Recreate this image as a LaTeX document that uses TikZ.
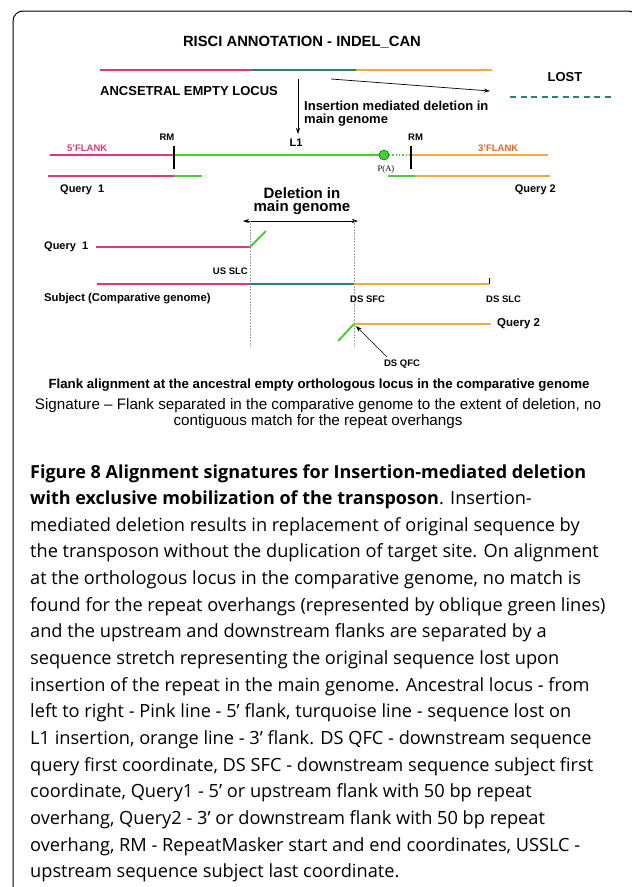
\documentclass[tikz,border=0pt]{standalone}
\usepackage{fontspec}
\setmainfont{Liberation Sans}
\newfontfamily\capfont{Open Sans}
\newfontfamily\pafont{Liberation Serif}
\usetikzlibrary{arrows.meta}
\definecolor{pinkc}{HTML}{E4357B}
\definecolor{tealc}{HTML}{2F7F78}
\definecolor{orangec}{HTML}{F4AA3E}
\definecolor{greenc}{HTML}{4DCB3A}
\definecolor{flankor}{HTML}{F0641E}
\begin{document}
\begin{tikzpicture}[x=1pt,y=-1pt,
  seg/.style={line width=2pt},
  thin arrow/.style={line width=0.7pt,-{Stealth[length=6pt,width=4pt]}},
  tick/.style={line width=1.2pt},
  guide/.style={gray!70,line width=0.5pt,densely dotted},
  lbl/.style={inner sep=0pt,font=\bfseries\fontsize{#1}{#1}\selectfont},
  lbl/.default=10,
  capl/.style={inner sep=0pt,anchor=base west,font=\capfont\fontsize{18.2}{18.2}\selectfont},
  capb/.style={capl,font=\capfont\bfseries\fontsize{18}{18}\selectfont},
  bodyt/.style={inner sep=0pt,font=\fontsize{15.2}{15.2}\selectfont}]
\useasboundingbox (0,0) rectangle (632,887);
\begin{scope}
\clip (0,0) rectangle (632,887);
\draw[line width=1pt,rounded corners=10pt] (13,900) -- (13,11) -- (638,11) -- (638,900);
\end{scope}

% title
\node[lbl=14.8] (title) at (302,42) {RISCI ANNOTATION - INDEL\_CAN};

% ancestral locus
\coordinate (a0) at (100,70); \coordinate (a1) at (251,70);
\coordinate (a2) at (356,70); \coordinate (a3) at (492,70);
\draw[seg,pinkc] (a0) -- (a1);
\draw[seg,tealc] (a1) -- (a2);
\draw[seg,orangec] (a2) -- (a3);
\node[lbl=13] (lost) at (565,77) {LOST};
\coordinate (d0) at (510,97); \coordinate (d1) at (614,97);
\draw[seg,tealc,line width=1.5pt,dash pattern=on 6pt off 4.5pt] (d0) -- (d1);
\coordinate (la0) at (331,79); \coordinate (la1) at (490,91);
\draw[thin arrow] (la0) -- (la1);
\node[lbl=13,anchor=west] (anc) at (100,91) {ANCSETRAL EMPTY LOCUS};
\coordinate (va0) at (298,79); \coordinate (va1) at (298,134);
\draw[thin arrow] (va0) -- (va1);
\node[lbl=13,anchor=west] (ins1) at (304,106) {Insertion mediated deletion in};
\node[lbl=13,anchor=west] (ins2) at (304,120) {main genome};

% main genome locus
\coordinate (m0) at (50,155); \coordinate (m1) at (174,155);
\coordinate (m2) at (379,155); \coordinate (m3) at (389,155);
\coordinate (m4) at (411,155); \coordinate (m5) at (548,155);
\draw[seg,pinkc] (m0) -- (m1);
\draw[seg,greenc] (m1) -- (m2);
\draw[greenc,line width=1.3pt,dotted] (m3) -- (m4);
\draw[seg,orangec] (m4) -- (m5);
\node[circle,draw=green!45!black,fill=greenc,line width=0.6pt,minimum size=10pt,inner sep=0pt] (pa) at (384,155) {};
\node[inner sep=0pt,font=\pafont\fontsize{8.5}{8.5}\selectfont] (palbl) at (386,169) {P(A)};
\coordinate (rm1a) at (174,146); \coordinate (rm1b) at (174,169);
\coordinate (rm2a) at (411,146); \coordinate (rm2b) at (411,169);
\draw[tick] (rm1a) -- (rm1b);
\draw[tick] (rm2a) -- (rm2b);
\node[lbl=9.5,anchor=east] (rm1) at (174.5,137) {RM};
\node[lbl=9.5,anchor=west] (rm2) at (408,137) {RM};
\node[lbl=9.5,anchor=west,text=pinkc] (f5) at (67,148) {5'FLANK};
\node[lbl=11] (l1) at (296,143) {L1};
\node[lbl=9.5,anchor=west,text=flankor] (f3) at (478,148) {3'FLANK};

% query lines
\coordinate (q0) at (48,176); \coordinate (q1) at (174,176); \coordinate (q2) at (202,176);
\coordinate (r0) at (388,176); \coordinate (r1) at (415,176); \coordinate (r2) at (550,176);
\draw[seg,pinkc] (q0) -- (q1);
\draw[seg,greenc] (q1) -- (q2);
\draw[seg,greenc] (r0) -- (r1);
\draw[seg,orangec] (r1) -- (r2);
\node[lbl=11,anchor=west] (qa) at (60,190) {Query\ \ 1};
\node[lbl=11,anchor=east] (qb) at (556,190) {Query 2};

% deletion
\node[lbl=15] (del1) at (302,193) {Deletion in};
\node[lbl=15] (del2) at (302,208) {main genome};
\coordinate (da0) at (243,221); \coordinate (da1) at (358,221);
\draw[line width=0.7pt,{Stealth[length=6pt,width=4pt]}-{Stealth[length=6pt,width=4pt]}] (da0) -- (da1);
\coordinate (g0) at (250,221); \coordinate (g1) at (250,346);
\coordinate (h0) at (354,221); \coordinate (h1) at (354,346);
\draw[guide] (g0) -- (g1);
\draw[guide] (h0) -- (h1);

% query 1 alignment
\node[lbl=11,anchor=west] (q1l) at (44,247) {Query\ \ 1};
\coordinate (s0) at (96,247); \coordinate (s1) at (250,247); \coordinate (s2) at (266,231);
\draw[seg,pinkc] (s0) -- (s1);
\draw[seg,greenc] (s1) -- (s2);
\node[lbl=9.5,anchor=east] (usslc) at (248,271) {US SLC};

% subject
\coordinate (t0) at (97,284); \coordinate (t1) at (250,284);
\coordinate (t2) at (354,284); \coordinate (t3) at (489,284);
\coordinate (t4) at (489,278);
\draw[seg,pinkc] (t0) -- (t1);
\draw[seg,tealc] (t1) -- (t2);
\draw[seg,orangec] (t2) -- (t3);
\draw[line width=0.6pt] (t3) -- (t4);
\node[lbl=11.3,anchor=west] (subj) at (44,299) {Subject (Comparative genome)};
\node[lbl=9.5,anchor=west] (dssfc) at (350,299) {DS SFC};
\node[lbl=9.5,anchor=west] (dsslc) at (486,299) {DS SLC};

% query 2 alignment
\coordinate (u0) at (354,324); \coordinate (u1) at (491,324); \coordinate (u2) at (338,341);
\draw[seg,orangec] (u0) -- (u1);
\draw[seg,greenc] (u0) -- (u2);
\node[lbl=11.5,anchor=west] (q2l) at (497,324) {Query 2};
\node[lbl=9.5] (dsqfc) at (402,364) {DS QFC};
\coordinate (qa0) at (387,357); \coordinate (qa1) at (356,326);
\draw[thin arrow,line width=0.5pt] (qa0) -- (qa1);

% descriptions
\node[lbl=13.3] (flank) at (319,385) {Flank alignment at the ancestral empty orthologous locus in the comparative genome};
\node[bodyt] (sig1) at (318,406) {Signature – Flank separated in the comparative genome to the extent of deletion, no};
\node[bodyt] (sig2) at (318,422) {contiguous match for the repeat overhangs};

% caption
\node[capb] (c1) at (30,478) {Figure 8 Alignment signatures for Insertion-mediated deletion};
\node[capl] (c2) at (30,504.65) {\bfseries\fontsize{18}{18}\selectfont with exclusive mobilization of the transposon\mdseries\fontsize{18.2}{18.2}\selectfont. Insertion-};
\node[capl] (c3) at (30,531.3) {mediated deletion results in replacement of original sequence by};
\node[capl] (c4) at (30,557.95) {the transposon without the duplication of target site. On alignment};
\node[capl] (c5) at (30,584.6) {at the orthologous locus in the comparative genome, no match is};
\node[capl] (c6) at (30,611.25) {found for the repeat overhangs (represented by oblique green lines)};
\node[capl] (c7) at (30,637.9) {and the upstream and downstream flanks are separated by a};
\node[capl] (c8) at (30,664.55) {sequence stretch representing the original sequence lost upon};
\node[capl] (c9) at (30,691.2) {insertion of the repeat in the main genome. Ancestral locus - from};
\node[capl] (c10) at (30,717.85) {left to right - Pink line - 5’ flank, turquoise line - sequence lost on};
\node[capl] (c11) at (30,744.5) {L1 insertion, orange line - 3’ flank. DS QFC - downstream sequence};
\node[capl] (c12) at (30,771.15) {query first coordinate, DS SFC - downstream sequence subject first};
\node[capl] (c13) at (30,797.8) {coordinate, Query1 - 5’ or upstream flank with 50 bp repeat};
\node[capl] (c14) at (30,824.45) {overhang, Query2 - 3’ or downstream flank with 50 bp repeat};
\node[capl] (c15) at (30,851.1) {overhang, RM - RepeatMasker start and end coordinates, USSLC -};
\node[capl] (c16) at (30,877.75) {upstream sequence subject last coordinate.};
\end{tikzpicture}
\end{document}
